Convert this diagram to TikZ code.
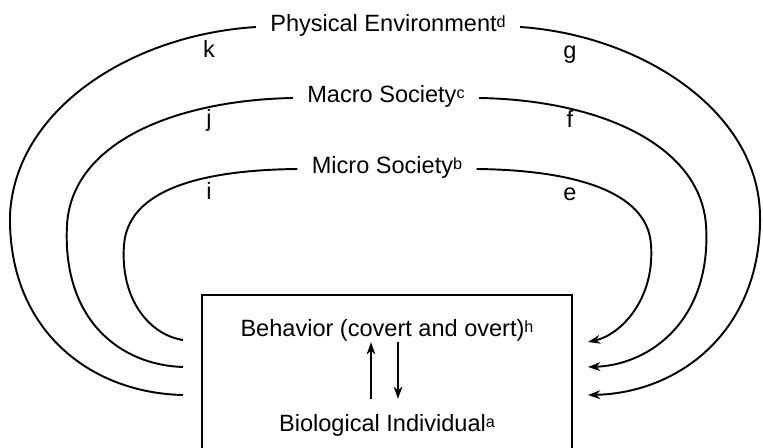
\documentclass[tikz,border=0pt]{standalone}
\usepackage{fontspec}
\setmainfont{Liberation Sans}
\usetikzlibrary{arrows.meta}
\newcommand{\supmark}[1]{\raisebox{2.6pt}{\fontsize{9.2}{9}\selectfont #1}}
\tikzstyle{ring} = [line width=1.1pt]
\tikzstyle{frame} = [line width=1.2pt]
\tikzstyle{tag} = [font=\fontsize{13.4}{16}\selectfont, inner sep=0pt]
\tikzstyle{title} = [tag, anchor=mid, inner xsep=8pt]

\begin{document}
\begin{tikzpicture}[x=0.02cm,y=-0.02cm,>={Stealth[length=7pt,width=5pt]}]
  \useasboundingbox (0,0) rectangle (763,448);

  \node[title]           (phys)  at (388,27)  {Physical Environment\supmark{d}};
  \node[title]           (macro) at (386,98)  {Macro Society\supmark{c}};
  \node[title]           (micro) at (387,169) {Micro Society\supmark{b}};
  \node[tag,anchor=base] (tk)    at (209,58)  {k};
  \node[tag,anchor=base] (tj)    at (209,127) {j};
  \node[tag,anchor=base] (ti)    at (209,200) {i};
  \node[tag,anchor=base] (tg)    at (570,59)  {g};
  \node[tag,anchor=base] (tf)    at (570,128) {f};
  \node[tag,anchor=base] (te)    at (570,201) {e};

  % the individual
  \draw[frame] (202,450) |- (572,295) -- (572,450);
  \node[tag,anchor=base] (behav) at (387,337) {Behavior (covert and overt)\supmark{h}};
  \node[tag,anchor=base] (bio)   at (387,432) {Biological Individual\supmark{a}};
  \draw[->,semithick,shorten <=9pt] ([xshift=-0.32cm]bio.north) -- ([xshift=-0.32cm]behav.south);
  \draw[->,semithick,shorten >=9pt] ([xshift=0.22cm]behav.south) -- ([xshift=0.22cm]bio.north);

  \coordinate (pl) at (183,395);
  \coordinate (ml) at (183,367);
  \coordinate (il) at (183,340);
  \coordinate (pr) at (588,395);
  \coordinate (mr) at (588,367);
  \coordinate (ir) at (588,342);

  \draw[ring] (phys.mid west) .. controls (130,35) and (15,110) .. (10,215)
                              .. controls (8,330) and (90,393) .. (pl);
  \draw[ring,->] (phys.mid east) .. controls (640,35) and (758,110) .. (760,215)
                                 .. controls (762,330) and (680,393) .. (pr);
  \draw[ring] (macro.mid west) .. controls (180,100) and (72,140) .. (67,225)
                               .. controls (62,320) and (120,365) .. (ml);
  \draw[ring,->] (macro.mid east) .. controls (600,100) and (700,145) .. (706,225)
                                  .. controls (712,320) and (650,365) .. (mr);
  \draw[ring] (micro.mid west) .. controls (200,170) and (128,190) .. (124,245)
                               .. controls (120,300) and (150,335) .. (il);
  \draw[ring,->] (micro.mid east) .. controls (570,170) and (648,190) .. (651,245)
                                  .. controls (655,300) and (620,335) .. (ir);
\end{tikzpicture}
\end{document}
